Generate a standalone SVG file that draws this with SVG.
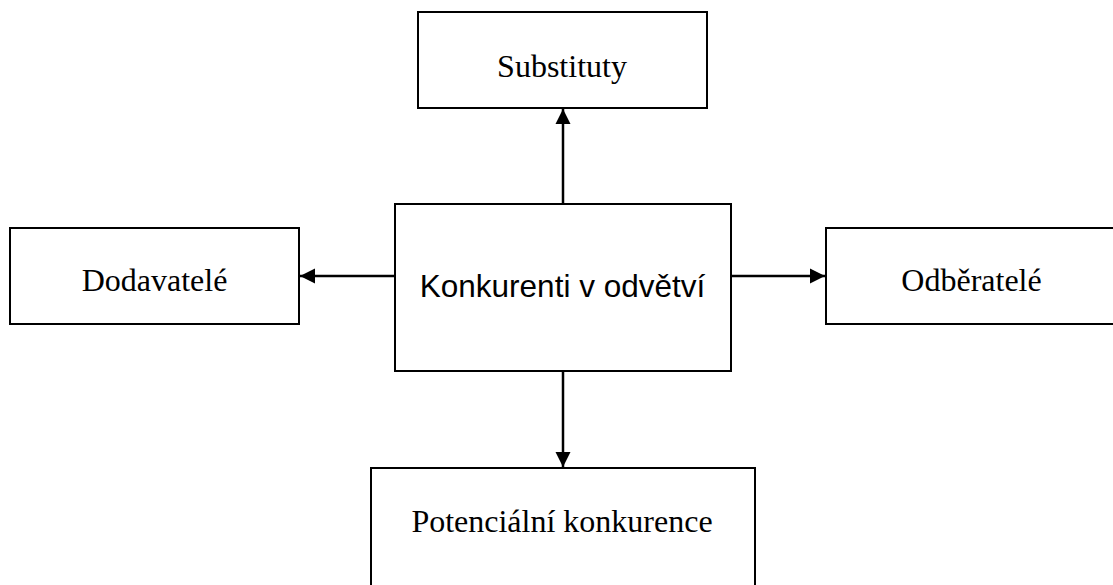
<svg xmlns="http://www.w3.org/2000/svg" width="1113" height="585" viewBox="0 0 1113 585">
<style>
.box{fill:#fff;stroke:#000;stroke-width:2}
.serif{font-family:"Liberation Serif","Times New Roman",serif;font-size:32px;fill:#000;text-anchor:middle}
.sans{font-family:"Liberation Sans",Arial,sans-serif;font-size:31.5px;fill:#000;text-anchor:middle}
.conn{stroke:#000;stroke-width:2.5;fill:none;marker-end:url(#ah)}
</style>
<defs>
<marker id="ah" markerUnits="userSpaceOnUse" markerWidth="16" markerHeight="16" viewBox="0 0 16 16" refX="15" refY="8" orient="auto">
<path d="M0,0.5 L15,8 L0,15.5 Z" fill="#000"/>
</marker>
</defs>
<g id="connectors">
<line class="conn" x1="563" y1="204" x2="563" y2="109"/>
<line class="conn" x1="395" y1="276" x2="300" y2="276"/>
<line class="conn" x1="731" y1="276" x2="825" y2="276"/>
<line class="conn" x1="563" y1="371" x2="563" y2="467"/>
</g>
<g id="substituty">
<rect class="box" x="418" y="12" width="289" height="96"/>
<text class="serif" x="562" y="77">Substituty</text>
</g>
<g id="dodavatele">
<rect class="box" x="10" y="228" width="289" height="96"/>
<text class="serif" x="154.5" y="291">Dodavatelé</text>
</g>
<g id="konkurenti">
<rect class="box" x="395" y="204" width="336" height="167"/>
<text class="sans" x="562.5" y="297">Konkurenti v odvětví</text>
</g>
<g id="odberatele">
<rect class="box" x="826" y="228" width="300" height="96"/>
<text class="serif" x="971.5" y="291">Odběratelé</text>
</g>
<g id="potencialni">
<rect class="box" x="371" y="468" width="384" height="140"/>
<text class="serif" x="562" y="532">Potenciální konkurence</text>
</g>
</svg>
